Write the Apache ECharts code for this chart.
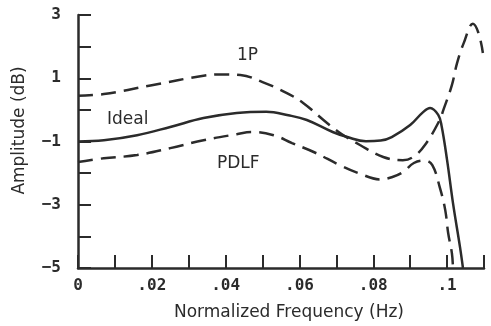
<!DOCTYPE html>
<html>
<head>
<meta charset="utf-8">
<script src="https://cdn.jsdelivr.net/npm/echarts@6/dist/echarts.min.js"></script>
<style>
  html, body { margin: 0; padding: 0; background: #fff; }
  #chart { width: 491px; height: 326px; }
</style>
</head>
<body>
<div id="chart"></div>
<script>
// values (frequency in Hz, amplitude in dB)
var idealFreq = [0, 0.007, 0.016, 0.025, 0.034, 0.043, 0.051, 0.057, 0.062, 0.069, 0.073, 0.078, 0.082, 0.085, 0.09, 0.0935, 0.0954, 0.0976, 0.0985, 0.1, 0.1016, 0.1035, 0.1043];
var idealAmp  = [-1.0, -0.96, -0.8, -0.54, -0.26, -0.1, -0.06, -0.17, -0.32, -0.7, -0.86, -0.99, -0.97, -0.86, -0.48, -0.07, 0.06, -0.16, -0.5, -1.59, -2.95, -4.34, -5.0];

var p1Freq = [0, 0.007, 0.02, 0.034, 0.039, 0.044, 0.05, 0.0566, 0.061, 0.0665, 0.071, 0.0764, 0.0827, 0.088, 0.0908, 0.094, 0.098, 0.099, 0.1013, 0.1027, 0.1045, 0.107, 0.1085, 0.1097];
var p1Amp  = [0.45, 0.5, 0.78, 1.08, 1.12, 1.1, 0.88, 0.53, 0.22, -0.32, -0.73, -1.11, -1.49, -1.59, -1.49, -1.11, -0.32, 0.0, 0.78, 1.48, 2.11, 2.72, 2.43, 1.8];

var pdlfFreq = [0, 0.007, 0.016, 0.025, 0.034, 0.043, 0.047, 0.053, 0.058, 0.064, 0.071, 0.076, 0.082, 0.085, 0.088, 0.091, 0.094, 0.096, 0.098, 0.0995, 0.1003, 0.1013, 0.1016];
var pdlfAmp  = [-1.65, -1.53, -1.43, -1.21, -0.96, -0.77, -0.7, -0.8, -1.05, -1.34, -1.75, -2.0, -2.2, -2.13, -1.97, -1.68, -1.6, -1.75, -2.44, -3.17, -3.9, -4.53, -5.0];

var curveNames = ['Ideal', '1P', 'PDLF'];

function pairs(xs, ys) {
  return xs.map(function (x, i) { return [x, ys[i]]; });
}

var ink = '#2b2b2b';
var chart = echarts.init(document.getElementById('chart'));

var lineBase = {
  type: 'line',
  showSymbol: false,
  smooth: 0.4,
  silent: true,
  clip: true
};

var option = {
  animation: false,
  backgroundColor: '#fff',
  grid: { left: 78, right: 7, top: 15, bottom: 58 },
  xAxis: {
    type: 'value',
    min: 0,
    max: 0.11,
    interval: 0.01,
    name: 'Normalized Frequency (Hz)',
    nameLocation: 'middle',
    nameGap: 36,
    nameTextStyle: { fontFamily: 'DejaVu Sans', fontSize: 17, color: ink, padding: [0, 0, 0, 16] },
    axisLine: { onZero: false, lineStyle: { color: ink, width: 2.5 } },
    axisTick: { inside: true, length: 13, lineStyle: { color: ink, width: 2 } },
    splitLine: { show: false },
    axisLabel: {
      margin: 10,
      fontFamily: 'DejaVu Sans Mono',
      fontWeight: 'bold',
      fontSize: 16,
      color: ink,
      formatter: function (v) {
        var n = Math.round(v * 100);
        if (n % 2) return '';
        if (n === 0) return '0';
        if (n % 10 === 0) return '.' + (n / 10);
        return '.' + (n < 10 ? '0' + n : n);
      }
    }
  },
  yAxis: {
    type: 'value',
    min: -5,
    max: 3,
    interval: 1,
    name: 'Amplitude (dB)',
    nameLocation: 'middle',
    nameGap: 50,
    nameTextStyle: { fontFamily: 'DejaVu Sans', fontSize: 17, color: ink, padding: [0, 0, 0, 22] },
    axisLine: { show: true, onZero: false, lineStyle: { color: ink, width: 2.5 } },
    axisTick: { show: true, inside: true, length: 13, lineStyle: { color: ink, width: 2 } },
    splitLine: { show: false },
    axisLabel: {
      margin: 17,
      fontFamily: 'DejaVu Sans Mono',
      fontWeight: 'bold',
      fontSize: 16,
      color: ink,
      formatter: function (v) {
        var n = Math.round(v);
        if (n % 2 === 0) return '';
        return n < 0 ? '\u2212' + (-n) : '' + n;
      }
    }
  },
  series: [
    Object.assign({}, lineBase, {
      name: curveNames[0],
      data: pairs(idealFreq, idealAmp),
      lineStyle: { color: ink, width: 2.5 }
    }),
    Object.assign({}, lineBase, {
      name: curveNames[1],
      data: pairs(p1Freq, p1Amp),
      lineStyle: { color: ink, width: 2.5, type: [15, 8] }
    }),
    Object.assign({}, lineBase, {
      name: curveNames[2],
      data: pairs(pdlfFreq, pdlfAmp),
      lineStyle: { color: ink, width: 2.5, type: [15, 8] }
    })
  ],
  graphic: [
    { type: 'text', left: 237, top: 47, style: { text: curveNames[1], fontFamily: 'DejaVu Sans', fontSize: 17, fill: ink } },
    { type: 'text', left: 107, top: 111, style: { text: curveNames[0], fontFamily: 'DejaVu Sans', fontSize: 17, fill: ink } },
    { type: 'text', left: 217, top: 155, style: { text: curveNames[2], fontFamily: 'DejaVu Sans', fontSize: 17, fill: ink } }
  ]
};

chart.setOption(option);
</script>
</body>
</html>
